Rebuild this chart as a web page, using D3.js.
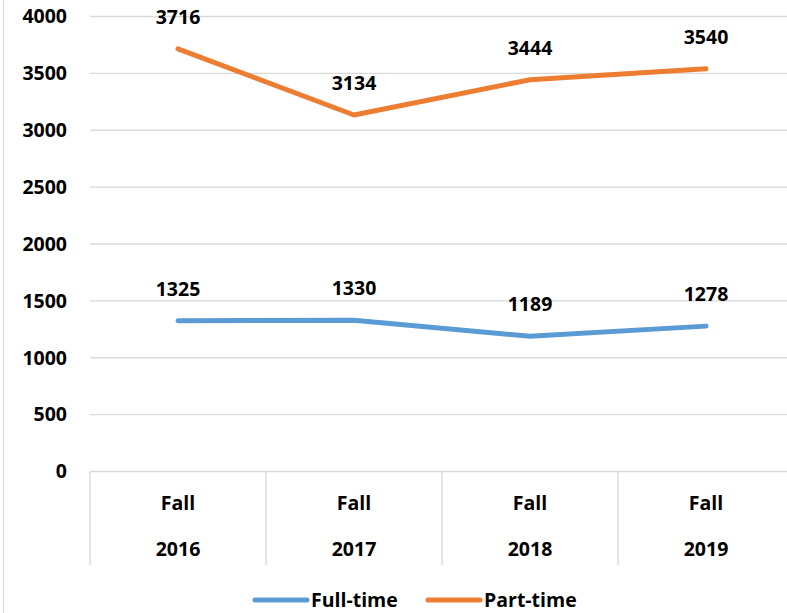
<!DOCTYPE html>
<html><head><meta charset="utf-8">
<script src="https://cdn.jsdelivr.net/npm/d3@7"></script>
<style>body{margin:0;background:#fff}svg{display:block}</style>
</head><body>
<svg id="c" width="787" height="613"></svg>
<script>
const categories = ["2016","2017","2018","2019"];
const catPrefix = "Fall";
const fullTime = [1325,1330,1189,1278];
const partTime = [3716,3134,3444,3540];
const yTicks = [0,500,1000,1500,2000,2500,3000,3500,4000];
const seriesNames = ["Full-time","Part-time"];
const colors = ["#5B9BD5","#ED7D31"];

const font = "'Open Sans', sans-serif";
const fs = 19.5;
const svg = d3.select("#c");
svg.append("line").attr("x1",3.5).attr("x2",3.5).attr("y1",0).attr("y2",613).attr("stroke","#d9d9d9");

const left = 90, bandW = 176;
const x = d3.scaleBand().domain(categories).range([left, left + bandW*categories.length]);
const y = d3.scaleLinear().domain([0,4000]).range([471.5,16.5]);

// gridlines
svg.append("g").selectAll("line").data(yTicks).join("line")
  .attr("x1",left).attr("x2",787).attr("y1",d=>y(d)).attr("y2",d=>y(d))
  .attr("stroke","#d9d9d9").attr("stroke-width",1.3);

// y labels
svg.append("g").selectAll("text").data(yTicks).join("text")
  .attr("x",67).attr("y",d=>y(d)).attr("dy","0.35em").attr("text-anchor","end")
  .attr("font-family",font).attr("font-weight","bold").attr("font-size",fs).attr("fill","#000")
  .text(d=>d);

// category separators
const seps = categories.map(c=>x(c)).concat([x(categories[categories.length-1])+x.bandwidth()]);
svg.append("g").selectAll("line").data(seps).join("line")
  .attr("x1",d=>d).attr("x2",d=>d).attr("y1",y(0)).attr("y2",565)
  .attr("stroke","#d9d9d9").attr("stroke-width",1.3);

const cx = c => x(c) + x.bandwidth()/2;
const cat = svg.append("g").attr("font-family",font).attr("font-weight","bold").attr("font-size",fs).attr("text-anchor","middle");
cat.selectAll("text.a").data(categories).join("text").attr("class","a")
  .attr("x",cx).attr("y",503).attr("dy","0.35em").text(catPrefix);
cat.selectAll("text.b").data(categories).join("text").attr("class","b")
  .attr("x",cx).attr("y",549).attr("dy","0.35em").text(d=>d);

const line = d3.line().x((d,i)=>cx(categories[i])).y(d=>y(d));
[fullTime, partTime].forEach((s,k)=>{
  svg.append("path").datum(s).attr("d",line).attr("fill","none")
    .attr("stroke",colors[k]).attr("stroke-width",5).attr("stroke-linecap","round").attr("stroke-linejoin","round");
  svg.append("g").selectAll("text").data(s).join("text")
    .attr("x",(d,i)=>cx(categories[i])).attr("y",d=>y(d)-32).attr("dy","0.35em")
    .attr("text-anchor","middle").attr("font-family",font).attr("font-weight","bold").attr("font-size",fs)
    .text(d=>d);
});

// legend
const legX = [253, 426];
seriesNames.forEach((n,k)=>{
  svg.append("line").attr("x1",legX[k]+2).attr("x2",legX[k]+54).attr("y1",600).attr("y2",600)
    .attr("stroke",colors[k]).attr("stroke-width",5).attr("stroke-linecap","round");
  svg.append("text").attr("x",legX[k]+58).attr("y",600).attr("dy","0.35em")
    .attr("font-family",font).attr("font-weight","bold").attr("font-size",fs).text(n);
});
</script>
</body></html>
